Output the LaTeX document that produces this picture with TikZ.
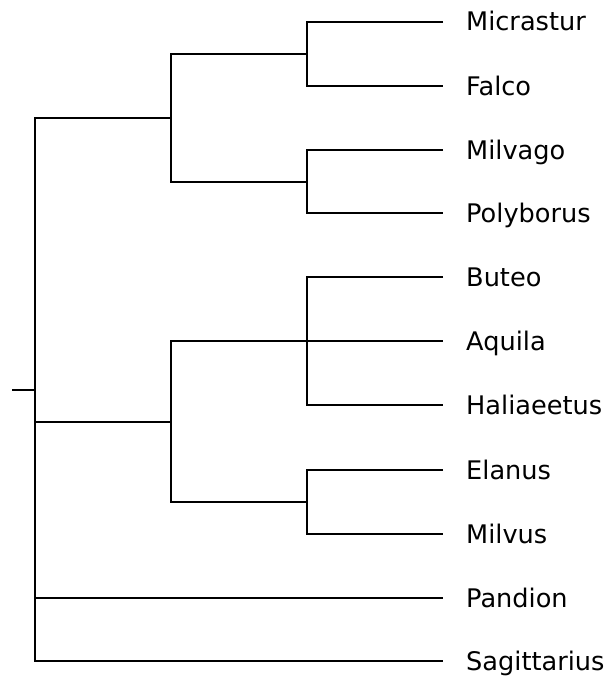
\documentclass[tikz,border=0pt]{standalone}
\usepackage{fontspec}
\setmainfont{DejaVu Sans}
\begin{document}
\begin{tikzpicture}[x=1pt,y=-1pt,
  branch/.style={draw=black,line width=2pt,line join=miter},
  leaflabel/.style={anchor=base west,inner sep=0pt,font=\fontsize{25.6}{30}\selectfont}]
\useasboundingbox (0,0) rectangle (604,677);
% leaves
\coordinate (l1) at (443,22);
\coordinate (l2) at (443,86);
\coordinate (l3) at (443,150);
\coordinate (l4) at (443,213);
\coordinate (l5) at (443,277);
\coordinate (l6) at (443,341);
\coordinate (l7) at (443,405);
\coordinate (l8) at (443,470);
\coordinate (l9) at (443,534);
\coordinate (l10) at (443,598);
\coordinate (l11) at (443,661);
% labels
\node[leaflabel] (t1) at (466,31) {Micrastur};
\node[leaflabel] (t2) at (466,95) {Falco};
\node[leaflabel] (t3) at (466,159) {Milvago};
\node[leaflabel] (t4) at (466,222) {Polyborus};
\node[leaflabel] (t5) at (466,286) {Buteo};
\node[leaflabel] (t6) at (466,350) {Aquila};
\node[leaflabel] (t7) at (466,414) {Haliaeetus};
\node[leaflabel] (t8) at (466,479) {Elanus};
\node[leaflabel] (t9) at (466,543) {Milvus};
\node[leaflabel] (t10) at (466,607) {Pandion};
\node[leaflabel] (t11) at (466,670) {Sagittarius};
% internal nodes
\coordinate (a) at (307,54);
\coordinate (b) at (307,181.5);
\coordinate (c) at (171,118);
\coordinate (d) at (307,341);
\coordinate (e) at (307,502);
\coordinate (f) at (171,421.5);
\coordinate (r) at (35,390);
\coordinate (s) at (12,390);
% branches
\draw[branch] (l1) -| (a) |- (l2);
\draw[branch] (l3) -| (b) |- (l4);
\draw[branch] (a) -| (c) |- (b);
\draw[branch] (l5) -| (d) |- (l7);
\draw[branch] (d) -- (l6);
\draw[branch] (l8) -| (e) |- (l9);
\draw[branch] (d) -| (f) |- (e);
\draw[branch] (c) -| (r) |- (l11);
\draw[branch] (r) |- (f);
\draw[branch] (r) |- (l10);
\draw[branch] (s) -- (r);
\end{tikzpicture}
\end{document}
